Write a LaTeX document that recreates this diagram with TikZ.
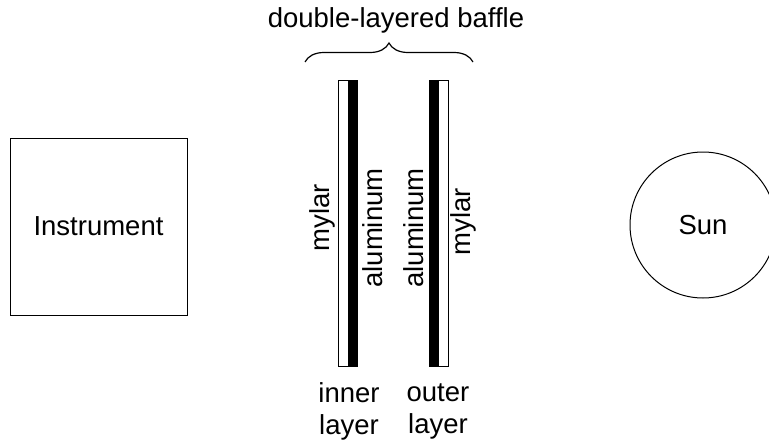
\documentclass[tikz,border=0pt]{standalone}
\usepackage{fontspec}
\setmainfont{Liberation Sans}
\usetikzlibrary{decorations.pathreplacing}

\begin{document}
\begin{tikzpicture}[x=1pt,y=-1pt]
		\tikzstyle{label}=[font=\fontsize{27.5}{32}\selectfont,inner sep=0pt]
		\tikzstyle{sidelabel}=[label,rotate=90]
		\tikzstyle{mylarstrip}=[draw,line width=1pt,fill=white,minimum width=10pt,minimum height=286pt,inner sep=0pt]
		\tikzstyle{alustrip}=[draw,line width=1pt,fill=black,minimum width=9pt,minimum height=286pt,inner sep=0pt]
		\tikzstyle{bracket}=[line width=1.2pt,decorate,decoration={brace,amplitude=19pt}]
		
		\useasboundingbox (0,0) rectangle (769,442);
		
		\node[draw,line width=1pt,minimum width=177pt,minimum height=177pt,label] (instrument) at (98.5,226.5) {Instrument};
		\node[draw,line width=1pt,circle,minimum size=146pt,label] (sun) at (703,225) {Sun};
		
		\node[mylarstrip] (innermylar) at (343,223) {};
		\node[alustrip] (inneralu) at (352.5,223) {};
		\node[alustrip] (outeralu) at (433.5,223) {};
		\node[mylarstrip] (outermylar) at (443,223) {};
		
		\node[sidelabel] (innermylartext) at (322,218) {mylar};
		\node[sidelabel] (inneralutext) at (373,228) {aluminum};
		\node[sidelabel] (outeralutext) at (414,228) {aluminum};
		\node[sidelabel] (outermylartext) at (463,222) {mylar};
		
		\node[label,align=center] (innertext) at (349,411) {inner\\layer};
		\node[label,align=center] (outertext) at (438,411) {outer\\layer};
		
		\coordinate (bracestart) at (305,62);
		\coordinate (braceend) at (473,62);
		\draw[bracket] (bracestart) -- (braceend);
		\node[label] (title) at (396,20) {double-layered baffle};
		\end{tikzpicture}
\end{document}
